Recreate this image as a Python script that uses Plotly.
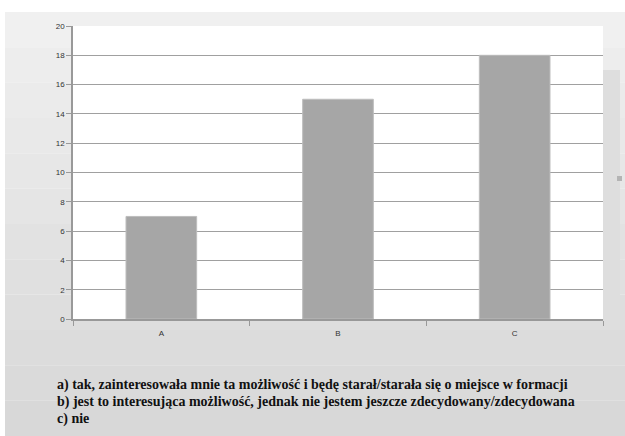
import plotly.graph_objects as go

categories = ["A", "B", "C"]
values = [7, 15, 18]
y_ticks = [0, 2, 4, 6, 8, 10, 12, 14, 16, 18, 20]
legend_lines = [
    "a) tak, zainteresowała mnie ta możliwość i będę starał/starała się o miejsce w formacji",
    "b) jest to interesująca możliwość, jednak nie jestem jeszcze zdecydowany/zdecydowana",
    "c) nie",
]

W, H = 625, 436
ml, mr, mt, mb = 73, 22, 26, 117
pw, ph = W - ml - mr, H - mt - mb

def px_x(x):
    return (x - ml) / pw

def px_y(y):
    return (H - mb - y) / ph

fig = go.Figure()
fig.add_trace(go.Bar(
    x=categories, y=values, width=0.4,
    marker=dict(color="#a6a6a6", line=dict(color="#bdbdbd", width=1)),
))

shapes = []
n = 12
top, bottom = 12, H
for i in range(n):
    y0 = top + (bottom - top) * i / n
    y1 = top + (bottom - top) * (i + 1) / n
    g = int(0xf0 - (0xf0 - 0xd8) * i / (n - 1))
    col = f"rgb({g},{g},{g})"
    shapes.append(dict(type="rect", xref="paper", yref="paper", layer="below",
                       x0=px_x(5), x1=px_x(W), y0=px_y(y1), y1=px_y(y0),
                       fillcolor=col, line=dict(width=0)))
shapes.append(dict(type="rect", xref="paper", yref="paper", layer="below",
                   x0=px_x(603), x1=px_x(620), y0=px_y(330), y1=px_y(70),
                   fillcolor="rgb(222,222,222)", line=dict(width=0)))
shapes.append(dict(type="rect", xref="paper", yref="paper", layer="below",
                   x0=px_x(617), x1=px_x(622), y0=px_y(181), y1=px_y(176),
                   fillcolor="rgb(180,180,180)", line=dict(width=0)))
shapes.append(dict(type="rect", xref="paper", yref="paper", layer="below",
                   x0=0, x1=1, y0=0, y1=1, fillcolor="white", line=dict(width=0)))

annotations = []
for i, line in enumerate(legend_lines):
    annotations.append(dict(
        text=f"<b>{line}</b>", xref="paper", yref="paper", x=px_x(55), y=px_y(385 + 17 * i),
        xanchor="left", yanchor="middle", showarrow=False,
        font=dict(family="Liberation Serif, Times New Roman, DejaVu Serif, serif",
                  size=14, color="#111111"),
    ))

fig.update_layout(
    width=W, height=H,
    margin=dict(l=ml, r=mr, t=mt, b=mb, pad=0),
    paper_bgcolor="white",
    plot_bgcolor="rgba(0,0,0,0)",
    showlegend=False,
    shapes=shapes,
    annotations=annotations,
    xaxis=dict(
        type="category", showgrid=False, showline=True, linecolor="#999999", linewidth=1.5,
        ticks="outside", tickson="boundaries", ticklen=5, tickcolor="#999999",
        tickfont=dict(family="Liberation Sans", size=8, color="#333333"),
        ticklabelstandoff=6,
    ),
    yaxis=dict(
        range=[0, 20], tickvals=y_ticks, showgrid=True, gridcolor="#a0a0a0", gridwidth=1.2,
        showline=True, linecolor="#999999", linewidth=1.5, zeroline=False,
        ticks="outside", ticklen=5, tickcolor="#999999",
        tickfont=dict(family="Liberation Sans", size=8, color="#333333"),
    ),
)

fig.write_html("out.html")
